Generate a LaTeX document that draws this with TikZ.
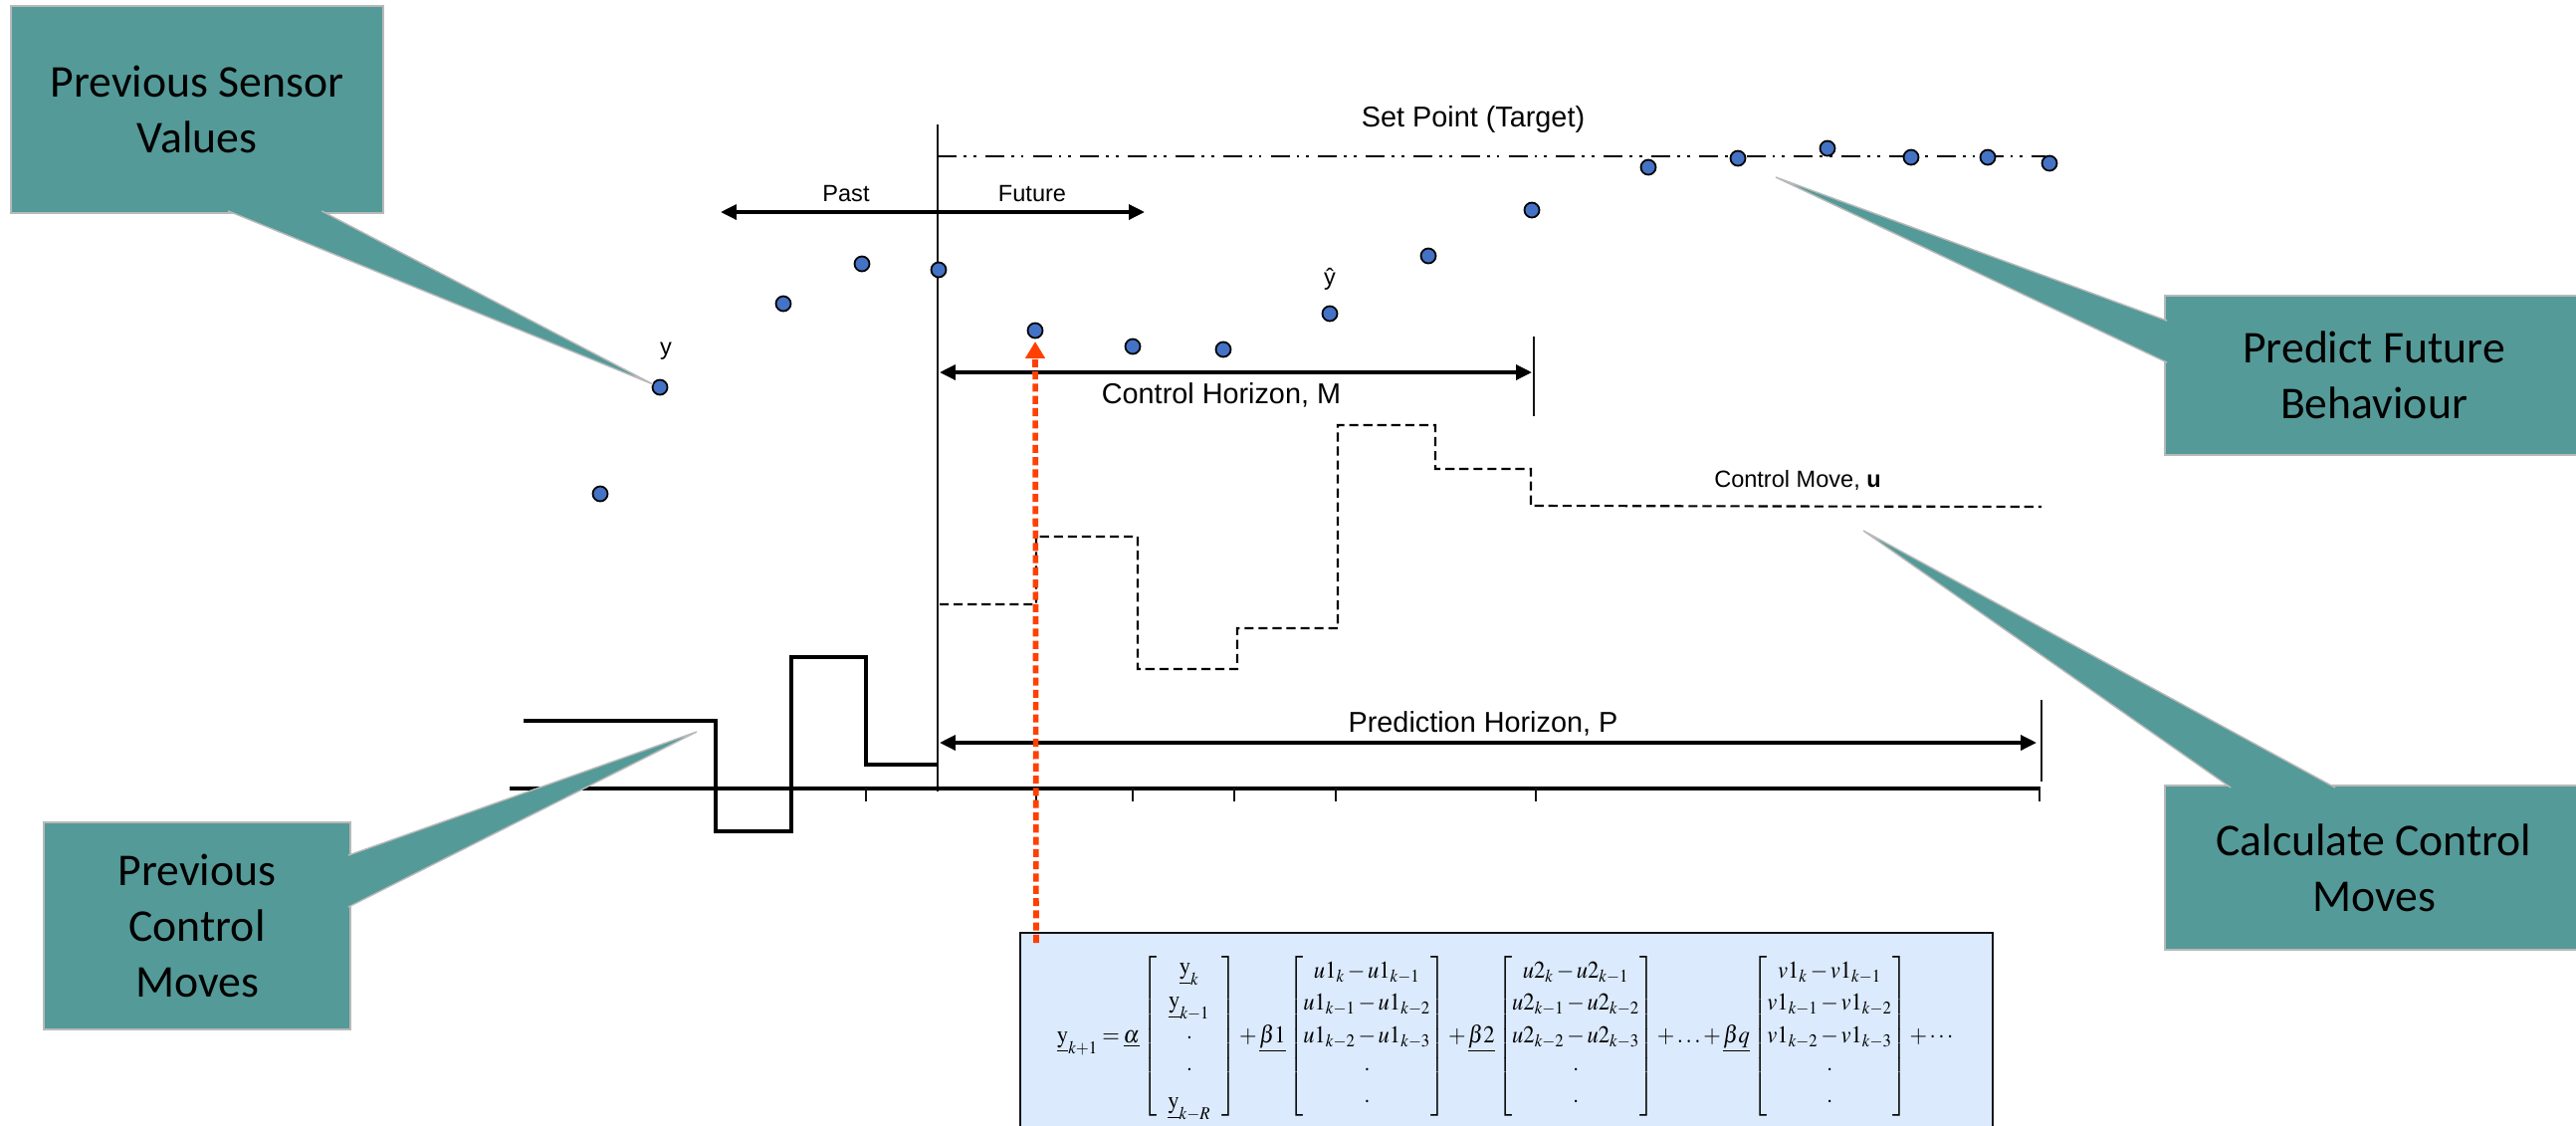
\documentclass[tikz,border=0pt]{standalone}
\usepackage{amsmath}
\usepackage{mathptmx}
\usepackage{fontspec}
\setmainfont{Liberation Serif}
\newfontfamily\calibrifont{Carlito}
\newfontfamily\arialfont{Liberation Sans}
\usetikzlibrary{arrows.meta, calc}
\definecolor{tealc}{RGB}{84,154,152}
\definecolor{dotc}{RGB}{68,114,196}
\definecolor{eqc}{RGB}{219,234,252}
\definecolor{redc}{RGB}{255,64,0}
\definecolor{inkc}{RGB}{20,20,20}
\tikzset{
  callout/.style={
    rectangle, fill=tealc, draw=gray!55, line width=0.5pt, inner sep=0pt,
    align=center, text=black, font=\calibrifont\fontsize{13}{15.9}\selectfont
  },
  tail/.style={fill=tealc, draw=gray!55, line width=0.4pt},
  sample/.style={circle, draw=black, fill=dotc, line width=0.5pt,
                 inner sep=0pt, minimum size=0.15cm},
  lbl/.style={font=\arialfont\fontsize{8.2}{9}\selectfont, inner sep=0pt},
  smalllbl/.style={font=\arialfont\fontsize{6.7}{8}\selectfont, inner sep=0pt},
  hair/.style={line width=0.6pt, draw=inkc},
  harr/.style={{Triangle[length=4.5pt, width=4.2pt]}-{Triangle[length=4.5pt, width=4.2pt]},
               line width=1pt},
  pastmv/.style={line width=1.1pt},
  planmv/.style={line width=0.6pt, dash pattern=on 2.6pt off 1.4pt},
  target/.style={line width=0.8pt,
                 dash pattern=on 5.4pt off 2pt on 0.8pt off 2pt on 0.8pt off 2.6pt},
  probe/.style={draw=redc, line width=1.6pt, dash pattern=on 2.3pt off 1.2pt,
                -{Triangle[length=4.8pt, width=5.4pt]}},
  eqbox/.style={rectangle, draw=inkc, fill=eqc, line width=0.6pt, inner sep=0pt,
                minimum width=9.77cm, minimum height=2.08cm},
}
\newcommand{\yv}{\underline{\mathrm{y}}}
\newcommand{\colv}[1]{\left[\begin{matrix}#1\end{matrix}\right]}
\renewcommand{\arraystretch}{1.12}

\begin{document}
\begin{tikzpicture}
  \useasboundingbox (0,0) rectangle (25.88,-11.31);

  % time axis and the present
  \coordinate (nowtop) at (9.42,-1.25);
  \coordinate (nowbot) at (9.42,-7.95);
  \draw[hair] (nowtop) -- (nowbot);
  \draw[line width=0.9pt] (5.12,-7.92) -- (20.50,-7.92);
  \foreach \x in {8.70,10.41,11.38,12.40,13.42,15.43,20.49}
    \draw[hair] (\x,-7.92) -- (\x,-8.05);

  \draw[target] (9.42,-1.57) -- (20.55,-1.57);
  \node[lbl] (setlbl) at (14.80,-1.20) {Set Point (Target)};

  \coordinate (pastend) at (7.24,-2.13);
  \coordinate (futend) at (11.50,-2.13);
  \draw[harr] (pastend) -- (futend);
  \node[smalllbl] (pastlbl) at (8.50,-1.95) {Past};
  \node[smalllbl] (futlbl) at (10.37,-1.95) {Future};

  \coordinate (cmstart) at (9.44,-3.74);
  \coordinate (cmend) at (15.39,-3.74);
  \draw[hair] (15.41,-3.38) -- (15.41,-4.18);
  \draw[harr] (cmstart) -- (cmend);
  \node[lbl] (cmlbl) at (12.27,-3.97) {Control Horizon, M};

  \coordinate (phstart) at (9.44,-7.46);
  \coordinate (phend) at (20.46,-7.46);
  \draw[hair] (20.51,-7.03) -- (20.51,-7.85);
  \draw[harr] (phstart) -- (phend);
  \node[lbl] (phlbl) at (14.90,-7.27) {Prediction Horizon, P};

  % control moves, past and planned
  \draw[pastmv] (5.26,-7.24) -- (7.19,-7.24) -- (7.19,-8.35) -- (7.95,-8.35)
    -- (7.95,-6.60) -- (8.70,-6.60) -- (8.70,-7.68) -- (9.42,-7.68);
  \draw[planmv] (9.44,-6.07) -- (10.41,-6.07) -- (10.41,-5.39) -- (11.43,-5.39)
    -- (11.43,-6.72) -- (12.43,-6.72) -- (12.43,-6.31) -- (13.44,-6.31)
    -- (13.44,-4.27) -- (14.42,-4.27) -- (14.42,-4.71) -- (15.38,-4.71)
    -- (15.38,-5.08) -- (20.51,-5.09);
  \node[smalllbl] (movelbl) at (18.06,-4.82) {Control Move, \textbf{u}};

  % measured and predicted outputs
  \foreach \x/\y [count=\i] in {6.03/4.96, 6.63/3.89, 7.87/3.05, 8.66/2.65, 9.43/2.71,
      10.40/3.32, 11.38/3.48, 12.29/3.51, 13.36/3.15, 14.35/2.57, 15.39/2.11,
      16.56/1.68, 17.46/1.59, 18.36/1.49, 19.20/1.58, 19.97/1.58, 20.59/1.64}
    \node[sample] (s\i) at (\x,-\y) {};
  \node[smalllbl] (ylbl) at (6.69,-3.53) {y};
  \node[smalllbl] (yhatlbl) at (13.36,-2.80) {ŷ};

  \node[eqbox] (model) at (15.135,-10.41) {\resizebox*{9.03cm}{1.70cm}{%
    \medmuskip=2mu\thickmuskip=3mu
    $\yv_{k+1}=\underline{\alpha}\colv{\quad\yv_{k}\quad\\ \yv_{k-1}\\ \cdot\\ \cdot\\ \yv_{k-R}}
    +\underline{\beta1}\colv{u1_{k}-u1_{k-1}\\ u1_{k-1}-u1_{k-2}\\ u1_{k-2}-u1_{k-3}\\ \cdot\\ \cdot}
    +\underline{\beta2}\colv{u2_{k}-u2_{k-1}\\ u2_{k-1}-u2_{k-2}\\ u2_{k-2}-u2_{k-3}\\ \cdot\\ \cdot}
    +\ldots+\underline{\beta q}\colv{v1_{k}-v1_{k-1}\\ v1_{k-1}-v1_{k-2}\\ v1_{k-2}-v1_{k-3}\\ \cdot\\ \cdot}+\cdots$}};

  \coordinate (probefoot) at (10.41,-9.47);
  \coordinate (probetip) at (10.40,-3.43);
  \draw[probe] (probefoot) -- (probetip);

  % callouts
  \node[callout, minimum width=3.74cm, minimum height=2.08cm] (sensorbox) at (1.98,-1.10)
    {Previous Sensor\\Values};
  \node[callout, minimum width=4.20cm, minimum height=1.60cm] (predictbox) at (23.85,-3.77)
    {Predict Future\\Behaviour};
  \node[callout, minimum width=4.20cm, minimum height=1.65cm] (calcbox) at (23.85,-8.715)
    {Calculate Control\\Moves};
  \node[callout, minimum width=3.08cm, minimum height=2.08cm] (movesbox) at (1.98,-9.30)
    {Previous\\Control\\Moves};

  \coordinate (sensortip) at (6.56,-3.86);
  \coordinate (predicttip) at (17.84,-1.78);
  \coordinate (calctip) at (18.72,-5.33);
  \coordinate (movestip) at (7.00,-7.35);

  \filldraw[tail] ($(sensorbox.south west)+(2.19,0.03)$) -- (sensortip)
    -- ($(sensorbox.south west)+(3.13,0.03)$);
  \filldraw[tail] ($(predictbox.north west)+(0.03,-0.26)$) -- (predicttip)
    -- ($(predictbox.north west)+(0.03,-0.68)$);
  \filldraw[tail] ($(calcbox.north west)+(0.67,-0.03)$) -- (calctip)
    -- ($(calcbox.north west)+(1.72,-0.03)$);
  \filldraw[tail] ($(movesbox.north east)+(-0.03,-0.34)$) -- (movestip)
    -- ($(movesbox.north east)+(-0.03,-0.86)$);

\end{tikzpicture}
\end{document}
